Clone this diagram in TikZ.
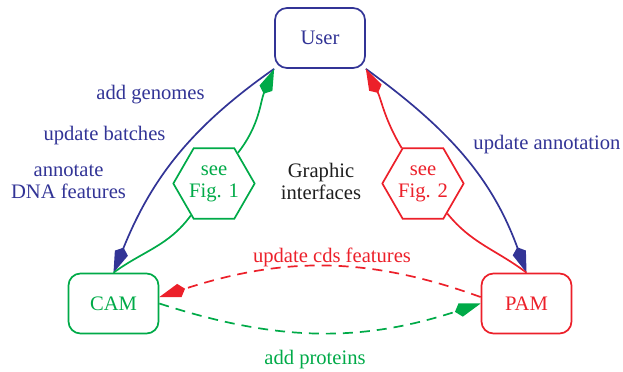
\documentclass[tikz,border=0pt]{standalone}
\usepackage{fontspec}
\setmainfont{Liberation Serif}
\usetikzlibrary{arrows.meta,shapes.geometric}
\definecolor{cblue}{RGB}{50,52,150}
\definecolor{cgreen}{RGB}{0,170,72}
\definecolor{cred}{RGB}{236,32,42}
\definecolor{ctext}{RGB}{30,30,30}
\tikzset{
  every node/.style={font=\fontsize{10.3}{11}\selectfont},
  modbox/.style={draw=#1, text=#1, rounded corners=6pt, minimum width=45pt, minimum height=30pt, line width=0.85pt},
  hexbox/.style={draw=#1, text=#1, fill=white, regular polygon, regular polygon sides=6, minimum size=39pt, inner sep=0pt, align=center, line width=0.85pt},
  conn/.style={line width=0.85pt},
  kite/.style={-{Kite[length=13.5pt,width=7pt,inset=3pt]}},
  dashline/.style={dash pattern=on 5pt off 3.5pt},
  lbl/.style={inner sep=0pt, align=center}
}
\begin{document}
\begin{tikzpicture}[x=0.5pt,y=-0.5pt]
\useasboundingbox (0,0) rectangle (623,371);
% nodes
\node[modbox=cblue] (user) at (320,38) {User};
\node[modbox=cgreen] (cam) at (113.5,303.5) {CAM};
\node[modbox=cred] (pam) at (526.5,303.5) {PAM};
\node[hexbox=cgreen] (hexa) at (214,183.5) {see\\Fig. 1};
\node[hexbox=cred] (hexb) at (423,183.5) {see\\Fig. 2};
% labels
\node[lbl, cblue] (l1) at (150.5,95) {add genomes};
\node[lbl, cblue] (l2) at (104.5,136) {update batches};
\node[lbl, cblue] (l3) at (68.5,182) {annotate\\DNA features};
\node[lbl, cblue] (l4) at (547,145) {update annotation};
\node[lbl, ctext] (l5) at (321,181.5) {Graphic\\interfaces};
\node[lbl, cred] (l6) at (332,257.5) {update cds features};
\node[lbl, cgreen] (l7) at (315,360) {add proteins};
% connectors
\draw[conn, cblue, kite] (user.south west) to[out=215, in=68] (cam.north);
\draw[conn, cblue, kite] (user.south east) to[out=-36, in=110] (pam.north);
\draw[conn, cgreen] (cam.north) to[out=36, in=234] (hexa);
\draw[conn, cgreen, kite] (hexa) to[out=52, in=247] (user.south west);
\draw[conn, cred] (pam.north) to[out=143, in=309] (hexb);
\draw[conn, cred, kite] (hexb) to[out=121, in=297] (user.south east);
\draw[conn, cred, dashline, kite] (pam.172) to[out=160, in=18] (cam.8);
\draw[conn, cgreen, dashline, kite] (cam.east) to[out=-18, in=198] (pam.west);
\end{tikzpicture}
\end{document}
